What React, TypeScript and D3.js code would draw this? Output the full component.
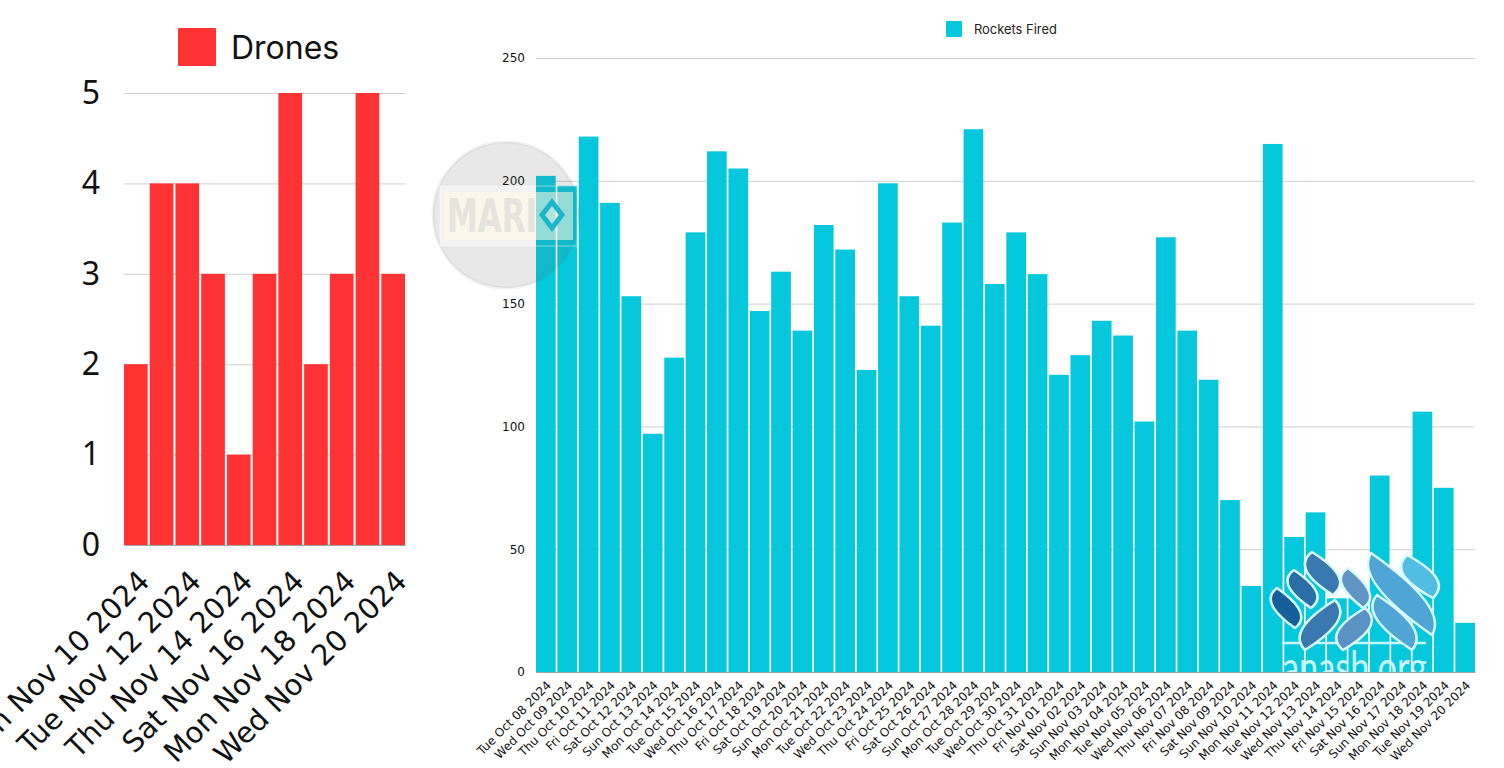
import React, { useRef, useEffect } from 'react';
import * as d3 from 'd3';

const droneDays = ['Sun Nov 10 2024', 'Mon Nov 11 2024', 'Tue Nov 12 2024', 'Wed Nov 13 2024', 'Thu Nov 14 2024', 'Fri Nov 15 2024', 'Sat Nov 16 2024', 'Sun Nov 17 2024', 'Mon Nov 18 2024', 'Tue Nov 19 2024', 'Wed Nov 20 2024'];
const droneCounts = [2, 4, 4, 3, 1, 3, 5, 2, 3, 5, 3];

const rocketDays = [
  'Tue Oct 08 2024', 'Wed Oct 09 2024', 'Thu Oct 10 2024', 'Fri Oct 11 2024', 'Sat Oct 12 2024', 'Sun Oct 13 2024',
  'Mon Oct 14 2024', 'Tue Oct 15 2024', 'Wed Oct 16 2024', 'Thu Oct 17 2024', 'Fri Oct 18 2024', 'Sat Oct 19 2024',
  'Sun Oct 20 2024', 'Mon Oct 21 2024', 'Tue Oct 22 2024', 'Wed Oct 23 2024', 'Thu Oct 24 2024', 'Fri Oct 25 2024',
  'Sat Oct 26 2024', 'Sun Oct 27 2024', 'Mon Oct 28 2024', 'Tue Oct 29 2024', 'Wed Oct 30 2024', 'Thu Oct 31 2024',
  'Fri Nov 01 2024', 'Sat Nov 02 2024', 'Sun Nov 03 2024', 'Mon Nov 04 2024', 'Tue Nov 05 2024', 'Wed Nov 06 2024',
  'Thu Nov 07 2024', 'Fri Nov 08 2024', 'Sat Nov 09 2024', 'Sun Nov 10 2024', 'Mon Nov 11 2024', 'Tue Nov 12 2024',
  'Wed Nov 13 2024', 'Thu Nov 14 2024', 'Fri Nov 15 2024', 'Sat Nov 16 2024', 'Sun Nov 17 2024', 'Mon Nov 18 2024',
  'Tue Nov 19 2024', 'Wed Nov 20 2024',
];
const rocketCounts = [
  202, 198, 218, 191, 153, 97, 128, 179, 212, 205, 147, 163, 139, 182, 172, 123, 199, 153, 141, 183, 221, 158,
  179, 162, 121, 129, 143, 137, 102, 177, 139, 119, 70, 35, 215, 55, 65, 30, 30, 80, 35, 106, 75, 20,
];

// logo leaves, [x1, y1, x2, y2, bulge, colour]
const logoLeaves: [number, number, number, number, number, string][] = [
  [1277, 588, 1295, 628, 13, '#15609a'],
  [1294, 570, 1311, 608, 13, '#2a6ea8'],
  [1312, 552, 1333, 595, 15, '#3a78b0'],
  [1335, 600, 1305, 650, -15, '#3a78b0'],
  [1348, 568, 1363, 608, 13, '#5f94c4'],
  [1365, 608, 1343, 650, -15, '#5a92c4'],
  [1371, 553, 1432, 635, 17, '#4fa6d4'],
  [1377, 595, 1412, 650, 15, '#4fa6d4'],
  [1407, 555, 1433, 598, 15, '#52bde2'],
];

const leafPath = ([x1, y1, x2, y2, w]: (typeof logoLeaves)[number]) => {
  const dx = x2 - x1;
  const dy = y2 - y1;
  const len = Math.hypot(dx, dy);
  const nx = (-dy / len) * w;
  const ny = (dx / len) * w;
  const p = d3.path();
  p.moveTo(x1, y1);
  p.bezierCurveTo(x1 + nx * 1.5 + dx * 0.1, y1 + ny * 1.5 + dy * 0.1, x1 + nx * 0.8 + dx * 0.6, y1 + ny * 0.8 + dy * 0.6, x2, y2);
  p.bezierCurveTo(x2 - nx * 1.5 - dx * 0.1, y2 - ny * 1.5 - dy * 0.1, x2 - nx * 0.8 - dx * 0.6, y2 - ny * 0.8 - dy * 0.6, x1, y1);
  p.closePath();
  return p.toString();
};

const GRID = '#cfcfcf';
const AXIS_FONT = '"DejaVu Sans", sans-serif';
const LEGEND_FONT = 'Inter, "Noto Sans", sans-serif';

type PanelOpts = {
  days: string[];
  counts: number[];
  ticks: number[];
  domainMax: number;
  left: number;
  right: number;
  top: number;
  bottom: number;
  colour: string;
  everyNth: number;
  yFont: number;
  yFamily: string;
  xFont: number;
  yGap: number;
  labelDx: number;
  labelDy: number;
};

const drawPanel = (svg: d3.Selection<SVGSVGElement, unknown, null, undefined>, o: PanelOpts) => {
  const x = d3.scaleBand<string>().domain(o.days.map((d, i) => `${i}|${d}`)).range([o.left, o.right]).paddingInner(0.08).paddingOuter(0);
  const y = d3.scaleLinear().domain([0, o.domainMax]).range([o.bottom, o.top]);

  const keys = x.domain();

  const gy = svg.append('g').attr('transform', `translate(${o.left},0)`)
    .call(d3.axisLeft(y).tickValues(o.ticks).tickSize(-(o.right - o.left)).tickPadding(o.yGap).tickFormat(d3.format('d')));
  gy.select('.domain').remove();
  gy.selectAll('line').attr('stroke', GRID).attr('stroke-width', 1);
  gy.selectAll('text').attr('fill', '#111').style('font-family', o.yFamily).style('font-size', `${o.yFont}px`);

  svg.append('g').selectAll('rect')
    .data(o.counts)
    .enter()
    .append('rect')
    .attr('x', (_, i) => x(keys[i]) as number)
    .attr('y', d => y(d))
    .attr('width', x.bandwidth())
    .attr('height', d => y(0) - y(d))
    .attr('fill', o.colour);

  const gx = svg.append('g').attr('transform', `translate(0,${o.bottom})`)
    .call(d3.axisBottom(x).tickValues(keys.filter((_, i) => i % o.everyNth === 0)).tickSize(0).tickFormat(k => String(k).split('|')[1]));
  gx.select('.domain').attr('stroke', '#9aa7a9').attr('stroke-width', 1);
  gx.selectAll('text')
    .attr('fill', '#111')
    .style('font-family', AXIS_FONT)
    .style('font-size', `${o.xFont}px`)
    .attr('text-anchor', 'end')
    .attr('dy', null)
    .attr('y', 0)
    .attr('transform', `translate(${o.labelDx},${o.labelDy}) rotate(-45)`);
};

export default function App() {
  const svgRef = useRef<SVGSVGElement>(null);

  useEffect(() => {
    if (!svgRef.current) return;
    const svg = d3.select(svgRef.current);
    svg.selectAll('*').remove();

    svg.append('rect').attr('width', 1504).attr('height', 768).attr('fill', '#fff');

    drawPanel(svg, {
      days: droneDays, counts: droneCounts, ticks: [0, 1, 2, 3, 4, 5], domainMax: 5,
      left: 124, right: 405, top: 93, bottom: 545, colour: '#ff3333', everyNth: 2,
      yFont: 32, yFamily: '"Noto Sans", sans-serif', xFont: 29, yGap: 24, labelDx: 15.5, labelDy: 38,
    });

    drawPanel(svg, {
      days: rocketDays, counts: rocketCounts, ticks: [0, 50, 100, 150, 200, 250], domainMax: 250,
      left: 536, right: 1475, top: 58, bottom: 672, colour: '#05c8dd', everyNth: 1,
      yFont: 12, yFamily: AXIS_FONT, xFont: 12, yGap: 11, labelDx: 6, labelDy: 14,
    });

    // legends
    svg.append('rect').attr('x', 178).attr('y', 28).attr('width', 38).attr('height', 38).attr('rx', 1).attr('fill', '#ff3333');
    svg.append('text').attr('x', 231).attr('y', 59).text('Drones')
      .style('font-family', LEGEND_FONT).style('font-size', '32px').attr('fill', '#111');
    svg.append('rect').attr('x', 946).attr('y', 21).attr('width', 16).attr('height', 16).attr('rx', 1).attr('fill', '#05c8dd');
    svg.append('text').attr('x', 974).attr('y', 34).text('Rockets Fired')
      .style('font-family', LEGEND_FONT).style('font-size', '12.9px').attr('fill', '#222');

    // Mario watermark
    const mario = svg.append('g');
    mario.append('circle').attr('cx', 506).attr('cy', 215).attr('r', 73)
      .attr('fill', 'rgba(97,97,97,0.144)').attr('stroke', 'rgba(97,97,97,0.08)').attr('stroke-width', 3);
    mario.append('rect').attr('x', 440).attr('y', 186).attr('width', 96).attr('height', 60).attr('fill', '#f3f3f3');
    mario.append('rect').attr('x', 440).attr('y', 186).attr('width', 137).attr('height', 60)
      .attr('fill', 'none').attr('stroke', 'rgba(255,255,255,0.3)').attr('stroke-width', 1.5);
    mario.append('rect').attr('x', 445).attr('y', 192).attr('width', 128).attr('height', 48).attr('fill', 'rgba(255,250,225,0.55)');
    mario.append('text').attr('x', 447).attr('y', 232).attr('textLength', 90).attr('lengthAdjust', 'spacingAndGlyphs').text('MARI')
      .style('font-family', AXIS_FONT).style('font-weight', 700).style('font-size', '46px').attr('fill', '#e6e4dc');
    mario.append('path').attr('d', 'M552 202L562 215L552 228L542 215Z').attr('fill', 'rgba(255,250,225,0.3)').attr('stroke', '#1cb6cb').attr('stroke-width', 5);

    // anash.org logo
    const logo = svg.append('g');
    logo.append('defs').append('clipPath').attr('id', 'logo-clip').append('rect').attr('x', 1270).attr('y', 540).attr('width', 170).attr('height', 132);
    logo.append('line').attr('x1', 1282).attr('x2', 1426).attr('y1', 643).attr('y2', 643).attr('stroke', '#c8f7fb').attr('stroke-width', 2.5);
    logo.append('g').attr('clip-path', 'url(#logo-clip)').append('text')
      .attr('x', 1282).attr('y', 683).attr('textLength', 145).attr('lengthAdjust', 'spacingAndGlyphs').text('anash.org')
      .style('font-family', 'Lato, sans-serif').style('font-size', '44px').attr('fill', '#c8f7fb');
    logo.selectAll('path.leaf').data(logoLeaves).enter().append('path')
      .attr('class', 'leaf')
      .attr('d', leafPath)
      .attr('fill', d => d[5])
      .attr('stroke', '#d9fbfd')
      .attr('stroke-width', 2.5)
      .attr('stroke-linejoin', 'round');
  }, []);

  return <svg ref={svgRef} width={1504} height={768} style={{ position: 'absolute', left: 0, top: 0, display: 'block' }} />;
}
